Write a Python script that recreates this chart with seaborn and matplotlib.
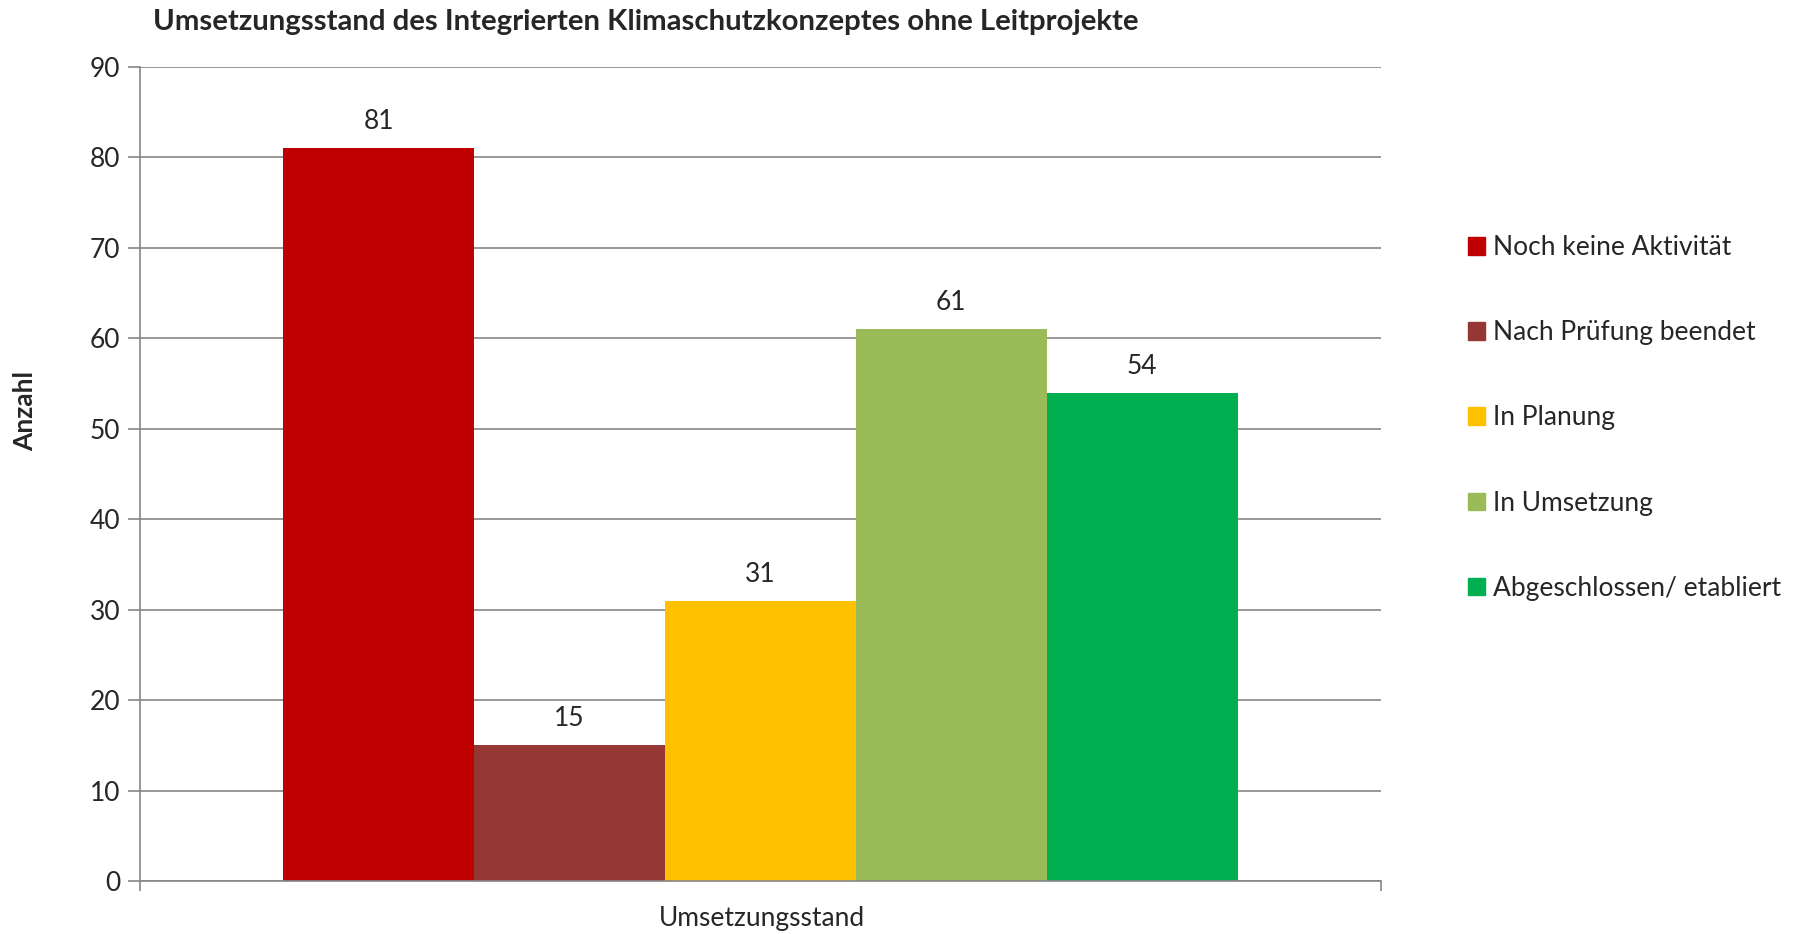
import matplotlib
matplotlib.use("Agg")
import matplotlib.pyplot as plt
import seaborn as sns
import pandas as pd

# values
status = ["Noch keine Aktivität", "Nach Prüfung beendet", "In Planung",
          "In Umsetzung", "Abgeschlossen/ etabliert"]
counts = [81, 15, 31, 61, 54]
colors = ["#C00000", "#953735", "#FFC000", "#9BBB59", "#00B050"]
category = "Umsetzungsstand"

sns.set_style("white")
plt.rcParams['font.family'] = ['Lato', 'DejaVu Sans']

df = pd.DataFrame({"Stand": [category] * len(status), "Status": status, "Anzahl": counts})

fig = plt.figure(figsize=(18.04, 9.34), dpi=100)
ax = fig.add_axes([0.0776, 0.0567, 0.6879, 0.8716])

sns.barplot(data=df, x="Stand", y="Anzahl", hue="Status", hue_order=status,
            palette=colors, width=0.769, gap=0, saturation=1, ax=ax,
            legend=False, edgecolor="none", linewidth=0)

for c in ax.containers:
    ax.bar_label(c, fmt="%d", padding=10, fontsize=19)

ax.set_ylim(0, 90)
ax.set_xlim(-0.5, 0.5)
ax.set_yticks(range(0, 91, 10))
ax.yaxis.grid(True, color="#868686", linewidth=1.2)
ax.set_axisbelow(True)
for s in ["top", "right"]:
    ax.spines[s].set_visible(False)
for s in ["left", "bottom"]:
    ax.spines[s].set_color("#868686")
    ax.spines[s].set_linewidth(1.2)
ax.tick_params(axis="y", left=True, length=9, color="#868686", width=1.2,
               labelsize=19, pad=5)
ax.set_xticks([-0.5, 0.5])
ax.set_xticklabels([])
ax.tick_params(axis="x", bottom=True, length=7, color="#868686", width=1.2)
ax.set_xlabel("")
ax.set_ylabel("")

fig.text(0.4224, 0.003, category, ha="center", va="bottom", fontsize=19)
fig.text(0.0139, 0.56, "Anzahl", rotation=90, ha="center", va="center",
         fontsize=19, fontweight="bold")
fig.text(0.0848, 0.99, "Umsetzungsstand des Integrierten Klimaschutzkonzeptes ohne Leitprojekte",
         ha="left", va="top", fontsize=21.2, fontweight="bold")

handles = [plt.Rectangle((0, 0), 1, 1, color=c) for c in colors]
fig.legend(handles, status, loc="center left", bbox_to_anchor=(0.8137, 0.5525),
           frameon=False, fontsize=19, handlelength=0.65, handleheight=0.65,
           handletextpad=0.3, labelspacing=2.28, borderaxespad=0, borderpad=0)

fig.savefig("out.png", dpi=100)
